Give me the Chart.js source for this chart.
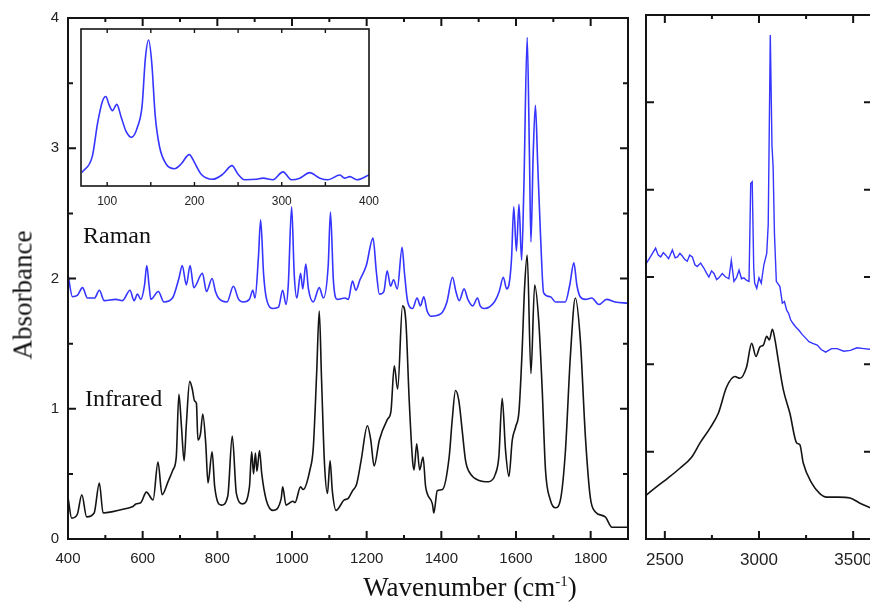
<!DOCTYPE html>
<html>
<head>
<meta charset="utf-8">
<script src="https://cdn.jsdelivr.net/npm/chart.js@4.4.1/dist/chart.umd.min.js"></script>
<style>
  html, body { margin: 0; padding: 0; background: #fff; overflow: hidden; }
  #wrap { position: relative; width: 870px; height: 602px; overflow: hidden; background: #fff; }
  canvas { position: absolute; }
  #mainCanvas { left: 0; top: 0; }
  #highCanvas { left: 620px; top: 0; }
  #insetCanvas { left: 70px; top: 22px; }
  .lbl { position: absolute; font-family: "Liberation Serif", "Times New Roman", serif; color: #111; line-height: 1; white-space: nowrap; }
</style>
</head>
<body>
<div id="wrap">
  <canvas id="mainCanvas" width="640" height="602"></canvas>
  <canvas id="highCanvas" width="280" height="602"></canvas>
  <canvas id="insetCanvas" width="340" height="200"></canvas>
  <div class="lbl" style="left:83px; top:223px; font-size:24px;">Raman</div>
  <div class="lbl" style="left:85px; top:386px; font-size:24px;">Infrared</div>
  <div class="lbl" style="left:470px; top:574px; font-size:27px; transform:translateX(-50%);">Wavenumber (cm<sup style="font-size:15px;">-1</sup>)</div>
  <div class="lbl" style="left:23px; top:295px; font-size:27px; transform:translate(-50%,-50%) rotate(-90deg);">Absorbance</div>
</div>
<script>
// low wavenumber region, [cm-1, absorbance]
var infraredMain = [
  [400, 0.32], [410, 0.16], [425, 0.19], [437, 0.34], [450, 0.17], [470, 0.20], [484, 0.43], [494, 0.20],
  [520, 0.21], [550, 0.23], [574, 0.25], [583, 0.27], [595, 0.28], [610, 0.36], [628, 0.30], [641, 0.59],
  [652, 0.34], [668, 0.44], [681, 0.53], [690, 0.63], [697, 1.11], [704, 0.86], [711, 0.60], [717, 0.88],
  [726, 1.21], [733, 1.15], [739, 1.06], [744, 1.04], [748, 0.76], [755, 0.81], [761, 0.96], [769, 0.73],
  [775, 0.43], [786, 0.67], [793, 0.40], [811, 0.26], [828, 0.33], [840, 0.79], [851, 0.35], [868, 0.27],
  [886, 0.40], [892, 0.67], [897, 0.50], [902, 0.66], [906, 0.52], [913, 0.68], [919, 0.50], [931, 0.30],
  [949, 0.22], [971, 0.31], [975, 0.40], [984, 0.26], [1002, 0.29], [1008, 0.28], [1023, 0.40], [1030, 0.38],
  [1048, 0.53], [1057, 0.70], [1066, 1.27], [1073, 1.75], [1079, 1.24], [1087, 0.58], [1095, 0.35], [1102, 0.60],
  [1108, 0.37], [1118, 0.22], [1140, 0.30], [1150, 0.31], [1162, 0.37], [1173, 0.42], [1185, 0.60], [1202, 0.87],
  [1211, 0.76], [1220, 0.56], [1234, 0.76], [1256, 0.92], [1265, 0.98], [1274, 1.33], [1283, 1.15], [1296, 1.79],
  [1305, 1.67], [1314, 1.06], [1323, 0.60], [1327, 0.53], [1334, 0.73], [1342, 0.53], [1351, 0.63], [1358, 0.40],
  [1376, 0.27], [1380, 0.20], [1389, 0.37], [1403, 0.38], [1421, 0.63], [1429, 0.91], [1438, 1.14], [1447, 1.06],
  [1456, 0.83], [1465, 0.60], [1478, 0.50], [1501, 0.45], [1527, 0.44], [1545, 0.50], [1554, 0.63], [1563, 1.08],
  [1572, 0.68], [1581, 0.48], [1590, 0.76], [1599, 0.86], [1608, 0.98], [1616, 1.42], [1623, 1.93], [1630, 2.18],
  [1640, 1.27], [1650, 1.95], [1661, 1.67], [1670, 1.16], [1679, 0.53], [1692, 0.30], [1706, 0.24], [1719, 0.30],
  [1732, 0.66], [1746, 1.42], [1759, 1.85], [1772, 1.54], [1786, 0.78], [1799, 0.32], [1812, 0.21], [1839, 0.17],
  [1857, 0.09], [1900, 0.09]
];

var ramanMain = [
  [400, 2.03], [412, 1.86], [425, 1.87], [439, 1.93], [452, 1.85], [471, 1.85], [484, 1.91], [497, 1.83],
  [528, 1.84], [546, 1.83], [566, 1.91], [577, 1.83], [586, 1.88], [595, 1.84], [605, 1.95], [611, 2.10],
  [617, 1.95], [622, 1.84], [642, 1.90], [657, 1.82], [680, 1.85], [697, 2.00], [706, 2.10], [717, 1.95],
  [727, 2.10], [737, 1.93], [760, 2.04], [771, 1.90], [786, 2.00], [795, 1.90], [803, 1.85], [826, 1.82],
  [843, 1.94], [857, 1.84], [870, 1.82], [886, 1.84], [895, 1.91], [901, 1.85], [910, 2.16], [916, 2.45],
  [924, 2.03], [932, 1.84], [950, 1.77], [964, 1.78], [975, 1.91], [984, 1.80], [990, 1.95], [999, 2.55],
  [1006, 2.03], [1013, 1.85], [1023, 2.04], [1029, 1.92], [1037, 2.11], [1044, 1.92], [1057, 1.82], [1073, 1.93],
  [1084, 1.85], [1097, 2.10], [1103, 2.51], [1111, 1.98], [1121, 1.84], [1142, 1.85], [1151, 1.84], [1162, 1.98],
  [1171, 1.91], [1182, 1.99], [1199, 2.10], [1217, 2.31], [1226, 2.05], [1234, 1.88], [1246, 1.90], [1255, 2.06],
  [1264, 1.94], [1272, 1.99], [1282, 1.92], [1295, 2.24], [1301, 2.05], [1310, 1.82], [1323, 1.77], [1335, 1.85],
  [1344, 1.79], [1353, 1.86], [1362, 1.75], [1373, 1.71], [1399, 1.73], [1415, 1.82], [1430, 2.01], [1439, 1.90],
  [1448, 1.83], [1461, 1.92], [1471, 1.84], [1484, 1.79], [1497, 1.85], [1504, 1.79], [1515, 1.77], [1542, 1.82],
  [1555, 1.90], [1566, 2.01], [1575, 1.92], [1581, 1.95], [1588, 2.15], [1594, 2.55], [1601, 2.21], [1608, 2.57],
  [1615, 2.14], [1621, 2.69], [1630, 3.85], [1636, 2.95], [1640, 2.28], [1646, 2.95], [1652, 3.33], [1658, 2.89],
  [1666, 2.31], [1674, 1.89], [1692, 1.86], [1706, 1.82], [1732, 1.82], [1744, 1.95], [1755, 2.12], [1763, 1.95],
  [1772, 1.86], [1786, 1.84], [1803, 1.85], [1822, 1.80], [1843, 1.84], [1865, 1.82], [1900, 1.81]
];

// C-H stretch region (arbitrary units, 0-6)
var infraredHigh = [
  [2400, 0.50], [2457, 0.60], [2518, 0.70], [2580, 0.81], [2643, 0.94], [2687, 1.10], [2740, 1.27], [2784, 1.44],
  [2828, 1.74], [2872, 1.86], [2899, 1.84], [2934, 1.97], [2961, 2.24], [2984, 2.09], [3005, 2.20], [3023, 2.22],
  [3041, 2.32], [3055, 2.28], [3071, 2.40], [3085, 2.28], [3102, 2.05], [3129, 1.71], [3164, 1.44], [3200, 1.10],
  [3217, 1.08], [3235, 0.87], [3280, 0.64], [3323, 0.52], [3359, 0.48], [3421, 0.48], [3483, 0.47], [3536, 0.41],
  [3600, 0.35]
];

var ramanHigh = [
  [2400, 3.15], [2420, 3.22], [2451, 3.33], [2465, 3.25], [2478, 3.23], [2492, 3.28], [2505, 3.25], [2520, 3.21],
  [2540, 3.31], [2555, 3.22], [2567, 3.23], [2580, 3.27], [2593, 3.24], [2606, 3.20], [2619, 3.18], [2632, 3.25],
  [2646, 3.23], [2660, 3.14], [2672, 3.12], [2690, 3.16], [2708, 3.10], [2720, 3.05], [2734, 3.00], [2748, 3.07],
  [2761, 3.04], [2775, 2.97], [2787, 2.99], [2805, 3.04], [2823, 3.00], [2840, 2.98], [2853, 3.19], [2867, 2.95],
  [2880, 2.99], [2894, 3.08], [2907, 2.98], [2920, 2.99], [2935, 2.96], [2947, 2.95], [2956, 4.07], [2964, 4.09],
  [2972, 3.10], [2977, 2.93], [2988, 2.87], [3000, 2.99], [3012, 2.93], [3026, 3.14], [3041, 3.27], [3049, 3.60],
  [3060, 5.77], [3069, 4.50], [3075, 4.26], [3082, 3.50], [3092, 2.95], [3111, 2.89], [3124, 2.70], [3135, 2.72],
  [3147, 2.62], [3158, 2.58], [3168, 2.51], [3180, 2.47], [3194, 2.43], [3212, 2.39], [3230, 2.34], [3248, 2.30],
  [3265, 2.26], [3285, 2.24], [3309, 2.22], [3330, 2.17], [3354, 2.14], [3385, 2.18], [3415, 2.18], [3450, 2.15],
  [3486, 2.16], [3520, 2.19], [3557, 2.18], [3600, 2.17]
];

// low frequency Raman, [cm-1, relative intensity]
var ramanLow = [
  [71, 0.085], [83, 0.19], [89, 0.40], [94.6, 0.54], [98.5, 0.57], [102, 0.52], [106, 0.48], [111, 0.52],
  [116, 0.44], [121.5, 0.35], [128, 0.31], [135, 0.38], [140, 0.51], [143.7, 0.81], [147.5, 0.93], [151, 0.79],
  [155, 0.45], [160, 0.25], [167.5, 0.14], [177, 0.11], [184.7, 0.14], [194, 0.20], [200, 0.15], [207.7, 0.075],
  [221, 0.043], [232.5, 0.075], [243, 0.13], [250, 0.075], [257.5, 0.04], [271, 0.043], [278.5, 0.05], [290, 0.04],
  [301.5, 0.09], [311, 0.04], [320.7, 0.05], [332, 0.085], [343.7, 0.05], [353, 0.04], [366.7, 0.07], [372, 0.05],
  [378, 0.06], [386, 0.04], [400, 0.07]
];

// tick values
var mainXLabels = [400, 600, 800, 1000, 1200, 1400, 1600, 1800];
var mainXMinor = [500, 700, 900, 1100, 1300, 1500, 1700, 1900];
var mainYLabels = [0, 1, 2, 3, 4];
var mainYMinor = [0.5, 1.5, 2.5, 3.5];
var highXLabels = [2500, 3000, 3500];
var highXMinor = [2750, 3250];
var highYTicks = [1, 2, 3, 4, 5];
var lowXLabels = [100, 200, 300, 400];
var lowXTicks = [100, 150, 200, 250, 300, 350];

var BLUE = '#3535ff';
var BLACK = '#141414';
var TICK_FONT = 'Arial, "Liberation Sans", sans-serif';

function toXY(list) {
  return list.map(function(p) { return { x: p[0], y: p[1] }; });
}

function plainNumber(v) { return String(v); }

// box round the plot area with ticks pointing inwards on every side
var framePlugin = {
  id: 'frame',
  beforeDatasetsDraw: function(chart, args, opts) {
    if (!opts.fill) return;
    var a = chart.chartArea;
    chart.ctx.save();
    chart.ctx.fillStyle = '#fff';
    chart.ctx.fillRect(a.left, a.top, a.right - a.left, a.bottom - a.top);
    chart.ctx.restore();
  },
  afterDatasetsDraw: function(chart, args, opts) {
    var ctx = chart.ctx, a = chart.chartArea;
    var xs = chart.scales.x, ys = chart.scales.y;
    ctx.save();
    ctx.strokeStyle = BLACK;
    ctx.lineWidth = opts.tickWidth || 2;
    ctx.beginPath();
    (opts.xTicks || []).forEach(function(t) {
      t.values.forEach(function(v) {
        var px = xs.getPixelForValue(v);
        ctx.moveTo(px, a.bottom); ctx.lineTo(px, a.bottom - t.len);
        ctx.moveTo(px, a.top); ctx.lineTo(px, a.top + t.len);
      });
    });
    (opts.yTicks || []).forEach(function(t) {
      t.values.forEach(function(v) {
        var py = ys.getPixelForValue(v);
        ctx.moveTo(a.left, py); ctx.lineTo(a.left + t.len, py);
        ctx.moveTo(a.right, py); ctx.lineTo(a.right - t.len, py);
      });
    });
    ctx.stroke();
    ctx.lineWidth = opts.lineWidth || 2;
    ctx.strokeRect(a.left, a.top, a.right - a.left, a.bottom - a.top);
    ctx.restore();
  }
};

function lineSet(data, color, width, smooth) {
  return {
    data: toXY(data),
    borderColor: color,
    borderWidth: width,
    pointRadius: 0,
    fill: false,
    cubicInterpolationMode: smooth ? 'monotone' : 'default',
    tension: 0
  };
}

function xAxis(min, max, labels, fontSize, pad, height) {
  return {
    type: 'linear', min: min, max: max,
    grid: { display: false, drawTicks: false },
    border: { display: false },
    ticks: { color: '#222', font: { family: TICK_FONT, size: fontSize }, padding: pad, maxRotation: 0, autoSkip: false, callback: plainNumber },
    afterBuildTicks: function(s) { s.ticks = labels.map(function(v) { return { value: v }; }); },
    afterFit: function(s) { s.height = height; }
  };
}

var baseOptions = {
  responsive: false,
  animation: false,
  events: [],
  plugins: { legend: { display: false }, tooltip: { enabled: false } }
};

// main panel: 400 - 1900 cm-1
new Chart(document.getElementById('mainCanvas').getContext('2d'), {
  type: 'line',
  data: { datasets: [lineSet(infraredMain, BLACK, 1.6, true), lineSet(ramanMain, BLUE, 1.6, true)] },
  options: Object.assign({}, baseOptions, {
    layout: { padding: { left: 0, top: 15, right: 12, bottom: 0 } },
    scales: {
      x: xAxis(400, 1900, mainXLabels, 15, 11, 63),
      y: {
        type: 'linear', min: 0, max: 4,
        grid: { display: false, drawTicks: false },
        border: { display: false },
        ticks: { color: '#222', font: { family: TICK_FONT, size: 15 }, padding: 9, callback: plainNumber },
        afterBuildTicks: function(s) { s.ticks = mainYLabels.map(function(v) { return { value: v }; }); },
        afterFit: function(s) { s.width = 68; }
      }
    },
    plugins: Object.assign({}, baseOptions.plugins, {
      frame: {
        xTicks: [{ values: mainXLabels, len: 8 }, { values: mainXMinor, len: 4 }],
        yTicks: [{ values: mainYLabels, len: 8 }, { values: mainYMinor, len: 5 }]
      }
    })
  }),
  plugins: [framePlugin]
});

// right panel: 2400 - 3600 cm-1
new Chart(document.getElementById('highCanvas').getContext('2d'), {
  type: 'line',
  data: { datasets: [lineSet(infraredHigh, BLACK, 1.6, true), lineSet(ramanHigh, BLUE, 1.4, false)] },
  options: Object.assign({}, baseOptions, {
    layout: { padding: { left: 26, top: 15, right: 28, bottom: 0 } },
    scales: {
      x: xAxis(2400, 3600, highXLabels, 17, 11, 63),
      y: { type: 'linear', min: 0, max: 6, display: false }
    },
    plugins: Object.assign({}, baseOptions.plugins, {
      frame: {
        xTicks: [{ values: highXLabels, len: 8 }, { values: highXMinor, len: 4 }],
        yTicks: [{ values: highYTicks, len: 8 }]
      }
    })
  }),
  plugins: [framePlugin]
});

// inset: low frequency Raman 70 - 400 cm-1
new Chart(document.getElementById('insetCanvas').getContext('2d'), {
  type: 'line',
  data: { datasets: [lineSet(ramanLow, BLUE, 1.6, true)] },
  options: Object.assign({}, baseOptions, {
    layout: { padding: { left: 11, top: 7, right: 41, bottom: 0 } },
    scales: {
      x: xAxis(70, 400, lowXLabels, 12, 8, 36),
      y: { type: 'linear', min: 0, max: 1, display: false }
    },
    plugins: Object.assign({}, baseOptions.plugins, {
      frame: {
        fill: true,
        lineWidth: 1.6,
        tickWidth: 1.4,
        xTicks: [{ values: lowXTicks, len: 4 }]
      }
    })
  }),
  plugins: [framePlugin]
});
</script>
</body>
</html>
